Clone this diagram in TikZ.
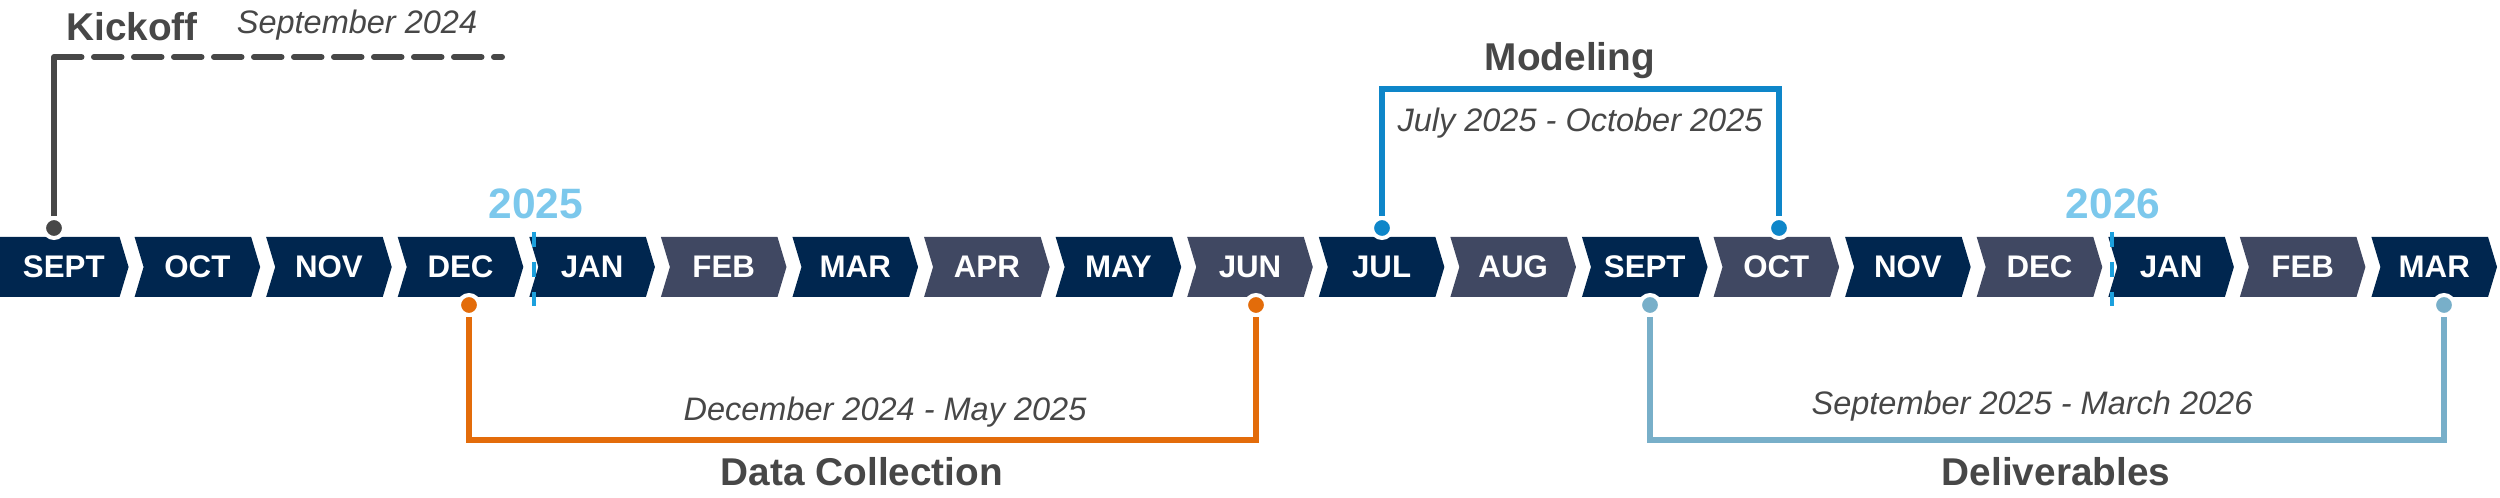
\documentclass[tikz,border=0pt]{standalone}
\usepackage{fontspec}
\setmainfont{Liberation Sans}
\definecolor{navy}{HTML}{00264F}
\definecolor{slate}{HTML}{404862}
\definecolor{txt}{HTML}{474747}
\definecolor{orng}{HTML}{E36C0A}
\definecolor{mblue}{HTML}{0E86C9}
\definecolor{dblue}{HTML}{78AFC9}
\definecolor{yr}{HTML}{7CC8EC}
\definecolor{yrl}{HTML}{1CA0DD}
\begin{document}
\begin{tikzpicture}[x=0.4pt,y=-0.4pt,
  mon/.style={text=white,font=\bfseries\fontsize{12.5}{12.5}\selectfont},
  head/.style={text=txt,font=\bfseries\fontsize{15.5}{15.5}\selectfont},
  sub/.style={text=txt,font=\itshape\fontsize{13}{13}\selectfont},
  year/.style={text=yr,font=\bfseries\fontsize{17}{17}\selectfont},
  dot/.style={circle,inner sep=0pt,minimum size=19pt*0.4/0.4*0.4,draw=white,line width=1.6pt},
  conn/.style={line width=2.4pt},
  yline/.style={draw=yrl,line width=1.6pt,dash pattern=on 6pt off 6pt}]
\useasboundingbox (0,0) rectangle (2500,498);
\def\w{131.58}
\def\d{9}
\def\g{3}
\foreach [count=\i from 0] \m/\c in {SEPT/navy,OCT/navy,NOV/navy,DEC/navy,JAN/navy,FEB/slate,MAR/navy,APR/slate,MAY/navy,JUN/slate,JUL/navy,AUG/slate,SEPT/navy,OCT/slate,NOV/navy,DEC/slate,JAN/navy,FEB/slate,MAR/navy}{
  \pgfmathsetmacro\xa{\i*\w+\g}
  \pgfmathsetmacro\xb{(\i+1)*\w-\g}
  \ifnum\i=0
    \fill[\c] (0,237) -- (\xb-\d,237) -- (\xb,267) -- (\xb-\d,297) -- (0,297) -- cycle;
  \else
    \fill[\c] (\xa,237) -- (\xb-\d,237) -- (\xb,267) -- (\xb-\d,297) -- (\xa,297) -- (\xa+\d,267) -- cycle;
  \fi
  \node[mon] (m\i) at ({(\i+0.5)*\w+(\i==0?-2:0)},267) {\m};
}
% years
\draw[yline] (534,232) -- (534,306);
\node[year] (y25) at (536,204) {2025};
\draw[yline] (2112,232) -- (2112,306);
\node[year] (y26) at (2113,204) {2026};
% kickoff
\node[dot,fill=txt,minimum size=8pt] (k) at (54,228) {};
\coordinate (kc) at (54,57);
\coordinate (ke) at (502,57);
\draw[conn,txt] (k) -- (kc);
\draw[conn,txt,dash pattern=on 11pt off 5pt,line cap=round] (kc) -- (ke);
\node[head] (kt) at (132,27) {Kickoff};
\node[sub] (ks) at (357,25) {September 2024};
% data collection
\node[dot,fill=orng,minimum size=8pt] (d1) at (469,305) {};
\node[dot,fill=orng,minimum size=8pt] (d2) at (1256,305) {};
\draw[conn,orng] (d1) |- (1256,440) -- (d2);
\node[sub] (dt) at (885,412) {December 2024 - May 2025};
\node[head] (dh) at (862,472) {Data Collection};
% modeling
\node[dot,fill=mblue,minimum size=8pt] (o1) at (1382,228) {};
\node[dot,fill=mblue,minimum size=8pt] (o2) at (1779,228) {};
\draw[conn,mblue] (o1) |- (1779,89) -- (o2);
\node[sub] (ot) at (1580,123) {July 2025 - October 2025};
\node[head] (oh) at (1570,61) {Modeling};
% deliverables
\node[dot,fill=dblue,minimum size=8pt] (e1) at (1650,305) {};
\node[dot,fill=dblue,minimum size=8pt] (e2) at (2444,305) {};
\draw[conn,dblue] (e1) |- (2444,440) -- (e2);
\node[sub] (et) at (2032,406) {September 2025 - March 2026};
\node[head] (eh) at (2056,472) {Deliverables};
\end{tikzpicture}
\end{document}
